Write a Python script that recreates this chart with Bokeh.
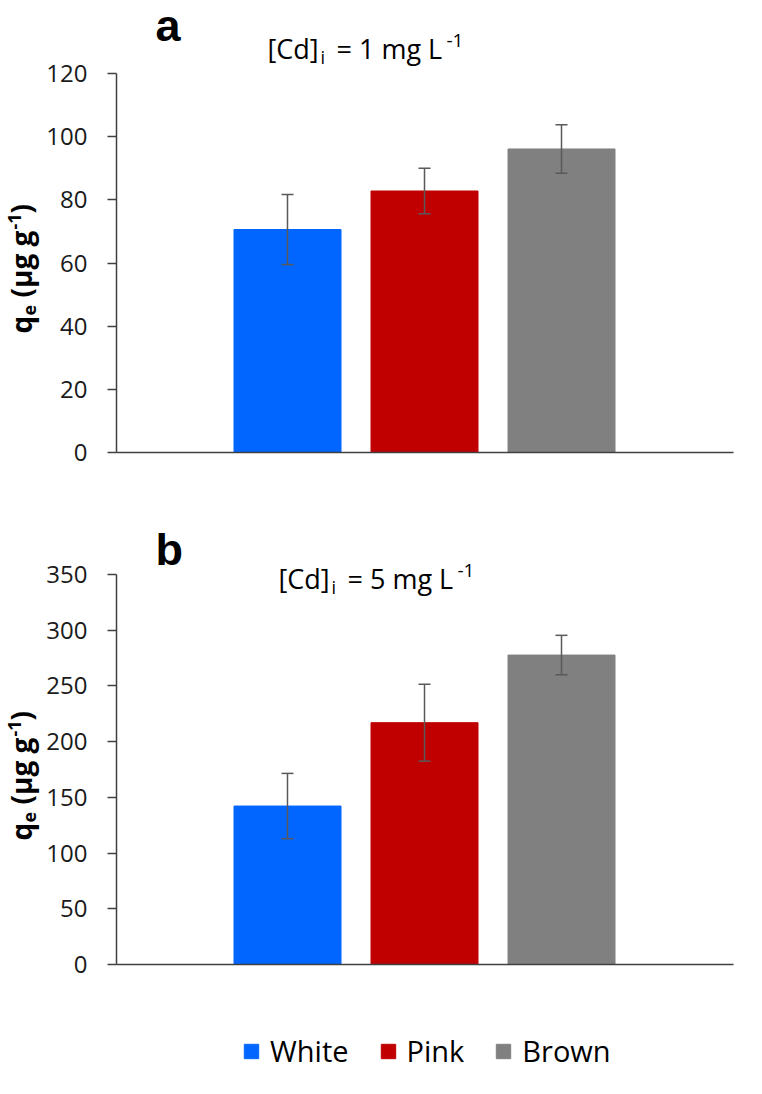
import math
from bokeh.plotting import figure
from bokeh.models import (ColumnDataSource, Range1d, FixedTicker, Whisker, LinearAxis,
                          TeeHead, Label, Legend, LegendItem)
from bokeh.layouts import column
from bokeh.embed import file_html
from bokeh.resources import INLINE

# ---------------- data ----------------
categories = ["White", "Pink", "Brown"]
bar_colors = ["#0066FF", "#C00000", "#808080"]
qe_1mg = [70.6, 82.8, 96.1]
sd_1mg = [11.1, 7.2, 7.7]
qe_5mg = [142.2, 217.0, 277.7]
sd_5mg = [29.3, 34.5, 17.7]
yticks_1mg = [0, 20, 40, 60, 80, 100, 120]
yticks_5mg = [0, 50, 100, 150, 200, 250, 300, 350]

# ---------------- layout (pixels) ----------------
FONT = "Open Sans"
AXIS_COLOR = "#404040"
ERR_COLOR = "#595959"
W = 762
AX_LEFT, AX_RIGHT = 116, 733      # plot area left / right edge
BAR_STEP, FIRST_BAR = 137, 287    # px between bar centres, centre of first bar
BAR_W = 107
K_BASE = 0.35                      # baseline correction factor for Label text

xs = list(range(len(categories)))


def make_panel(vals, sds, ymax, ticks, height, frame_top, frame_bottom, page_top):
    ppu = (frame_bottom - frame_top) / ymax
    src = ColumnDataSource(dict(x=xs, val=vals,
                                lo=[v - s for v, s in zip(vals, sds)],
                                hi=[v + s for v, s in zip(vals, sds)],
                                color=bar_colors))
    x_lo = (0 - FIRST_BAR) / BAR_STEP
    x_hi = (W - FIRST_BAR) / BAR_STEP
    p = figure(width=W, height=height, output_backend="svg", toolbar_location=None,
               x_range=Range1d(x_lo, x_hi),
               y_range=Range1d(-(height - frame_bottom) / ppu, ymax + frame_top / ppu),
               x_axis_location=None, y_axis_location=None,
               min_border=0, min_border_left=0, min_border_right=0,
               min_border_top=0, min_border_bottom=0)
    p.outline_line_color = None
    p.grid.visible = False
    bars = p.vbar(x="x", top="val", width=BAR_W / BAR_STEP, source=src,
                  fill_color="color", line_color="color", line_width=1)
    p.add_layout(Whisker(source=src, base="x", lower="lo", upper="hi", level="overlay",
                         line_color=ERR_COLOR, line_width=1.5,
                         upper_head=TeeHead(size=12, line_color=ERR_COLOR, line_width=1.5),
                         lower_head=TeeHead(size=12, line_color=ERR_COLOR, line_width=1.5)))
    ax_x0 = (AX_LEFT - FIRST_BAR) / BAR_STEP
    ax_x1 = (AX_RIGHT - FIRST_BAR) / BAR_STEP
    # y axis
    ya = LinearAxis(fixed_location=ax_x0, bounds=(0, ymax), ticker=FixedTicker(ticks=ticks))
    ya.minor_tick_line_color = None
    ya.major_tick_in = 0
    ya.major_tick_out = 9
    ya.major_tick_line_color = AXIS_COLOR
    ya.major_tick_line_width = 1.5
    ya.axis_line_color = AXIS_COLOR
    ya.axis_line_width = 1.5
    ya.major_label_text_font = FONT
    ya.major_label_text_font_size = "24px"
    ya.major_label_text_color = "#1a1a1a"
    ya.major_label_standoff = 20
    p.add_layout(ya, "left")
    # x axis: plain baseline
    xa = LinearAxis(fixed_location=0, bounds=(ax_x0, ax_x1), ticker=FixedTicker(ticks=[]))
    xa.minor_tick_line_color = None
    xa.major_tick_line_color = None
    xa.major_label_text_font_size = "0px"
    xa.axis_line_color = AXIS_COLOR
    xa.axis_line_width = 1.5
    p.add_layout(xa, "below")
    return p, bars, (height, page_top)


def page_label(p, ref, text, px, py, size, bold=False, rotated=False, font=FONT):
    height, top = ref
    corr = K_BASE * size
    if rotated:
        px -= corr
    else:
        py -= corr
    p.add_layout(Label(x=px, y=height - (py - top), x_units="screen", y_units="screen",
                       text=text, text_font=font, text_font_size=f"{size}px",
                       text_font_style="bold" if bold else "normal",
                       text_color="black", angle=math.pi / 2 if rotated else 0.0,
                       text_align="left", text_baseline="alphabetic"))


def decorate(p, ref, letter, letter_y, conc, tx, ty, q_y):
    page_label(p, ref, letter, 155, letter_y, 45, bold=True, font="Liberation Sans")
    # title "[Cd]i = X mg L-1"
    page_label(p, ref, "[Cd]", tx, ty, 27)
    page_label(p, ref, "i", tx + 53, ty + 6, 18)
    page_label(p, ref, f"= {conc} mg L", tx + 69, ty, 27)
    page_label(p, ref, "-1", tx + 179, ty - 10, 19)
    # y axis label "qe (µg g-1)", read bottom to top
    bx = 30
    page_label(p, ref, "q", bx, q_y, 28, bold=True, rotated=True)
    page_label(p, ref, "e", bx + 5, q_y - 18, 18, bold=True, rotated=True)
    page_label(p, ref, "(µg g", bx, q_y - 36, 28, bold=True, rotated=True)
    page_label(p, ref, "-1", bx - 10, q_y - 104, 18, bold=True, rotated=True)
    page_label(p, ref, ")", bx, q_y - 120, 28, bold=True, rotated=True)


H1 = 505
H2 = 589

p1, b1, ref1 = make_panel(qe_1mg, sd_1mg, 120, yticks_1mg, H1, 73, 452, 0)
decorate(p1, ref1, "a", 41, "1", 267, 57, 333)

p2, b2, ref2 = make_panel(qe_5mg, sd_5mg, 350, yticks_5mg, H2, 574 - H1, 964 - H1, H1)
decorate(p2, ref2, "b", 565, "5", 278, 587, 840)

legend = Legend(items=[LegendItem(label=c, renderers=[b2], index=i)
                       for i, c in enumerate(categories)],
                orientation="horizontal", location=(242, 24),
                glyph_width=18, glyph_height=18, label_standoff=10, spacing=30,
                padding=0, margin=0, border_line_color=None, background_fill_alpha=0,
                label_text_font=FONT, label_text_font_size="29px",
                label_text_color="black", label_height=30)
p2.add_layout(legend, "center")

layout = column(p1, p2, spacing=0)
open("out.html", "w").write(file_html(layout, INLINE))
